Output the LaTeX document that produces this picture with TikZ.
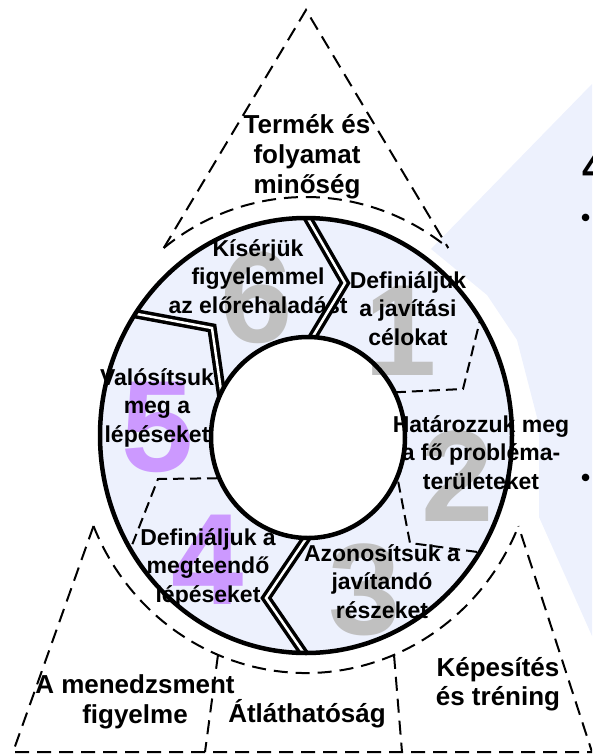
\documentclass[tikz,border=0pt]{standalone}
\usepackage{fontspec}
\setmainfont{Liberation Sans}
\usetikzlibrary{calc}
\definecolor{bluebg}{RGB}{237,241,253}
\definecolor{ringfill}{RGB}{237,241,253}
\definecolor{numgray}{RGB}{192,192,192}
\definecolor{numpurple}{RGB}{204,153,255}
\begin{document}
\begin{tikzpicture}[x=1pt,y=-1pt,
  ringtext/.style={font=\fontsize{23}{28.5}\selectfont\bfseries, align=center, inner sep=0pt, anchor=base},
  outtext/.style={font=\fontsize{26}{30}\selectfont\bfseries, align=center, inner sep=0pt, anchor=base},
  bignum/.style={font=\fontsize{130}{130}\selectfont\bfseries, inner sep=0pt},
  dline/.style={draw=black, line width=3.5pt, double=white, double distance=2.5pt, line join=miter},
  sepdash/.style={line width=2pt, dash pattern=on 11pt off 6pt},
  outdash/.style={line width=2pt, dash pattern=on 14pt off 8pt},
]
\useasboundingbox (0,0) rectangle (592,755);
\clip (0,0) rectangle (592,755);

% background shape on the right
\fill[bluebg] (592,84) -- (431,249) -- (487,295) -- (517,340) -- (539,425) -- (539,517) -- (592,636) -- cycle;
\node[font=\fontsize{40}{40}\selectfont\bfseries, anchor=west, inner sep=0pt] (frag4) at (582,168) {4};
\node[font=\fontsize{26}{26}\selectfont\bfseries, anchor=west, inner sep=0pt] (bul1) at (581,220) {•};
\node[font=\fontsize{26}{26}\selectfont\bfseries, anchor=west, inner sep=0pt] (bul2) at (581,480) {•};

% ring
\coordinate (rc) at (306,435.5);
\coordinate (ic) at (308,437.5);
\fill[ringfill] (rc) ellipse [x radius=206, y radius=217.5];
\fill[white] (ic) ellipse [x radius=97, y radius=100.5];

% big numbers
\node[bignum, text=numgray] (n1) at (401,331) {1};
\node[bignum, text=numgray] (n2) at (458,476) {2};
\node[bignum, text=numgray] (n3) at (365,590) {3};
\node[bignum, text=numpurple] (n4) at (208,560) {4};
\node[bignum, text=numpurple] (n5) at (158,427) {5};
\node[bignum, text=numgray] (n6) at (257,298) {6};

% ring texts (anchored at the baseline of their last line)
\node[ringtext] (t6) at (258,313) {Kísérjük\\figyelemmel\\az előrehaladást};
\node[ringtext] (t1) at (408,345) {Definiáljuk\\a javítási\\célokat};
\node[ringtext] (t2) at (481,489) {Határozzuk meg\\a fő probléma-\\területeket};
\node[ringtext] (t3) at (382,618) {Azonosítsuk a\\javítandó\\részeket};
\node[ringtext] (t4) at (208,602) {Definiáljuk a\\megteendő\\lépéseket};
\node[ringtext] (t5) at (157,442) {Valósítsuk\\meg a\\lépéseket};

% dividers, clipped to the ring
\begin{scope}[even odd rule]
\clip (rc) ellipse [x radius=206, y radius=217.5] (ic) ellipse [x radius=97, y radius=100.5];
\draw[dline] (299,203) -- (345,283) -- (303,353);
\draw[dline] (318,521) -- (266,598) -- (314,668);
\draw[dline] (110,309) -- (212,328) -- (226,425);
\draw[sepdash] (486,296) -- (463,389) -- (380,393);
\draw[sepdash] (395,465) -- (410,543) -- (500,555);
\draw[sepdash] (235,478) -- (158,479) -- (125,563);
\end{scope}

\draw[line width=4.5pt] (rc) ellipse [x radius=206, y radius=217.5];
\draw[line width=4.5pt] (ic) ellipse [x radius=97, y radius=100.5];

% dashed outer frame
\coordinate (dc) at (306,435);
\coordinate (apex) at (306,10);
\coordinate (tl) at ($(dc)+(-128.2:230 and 238)$);
\coordinate (tr) at ($(dc)+(-51.8:230 and 238)$);
\coordinate (bl) at ($(dc)+(157.5:230 and 238)$);
\coordinate (br) at ($(dc)+(22.5:230 and 238)$);
\coordinate (d1) at ($(dc)+(112.5:230 and 238)$);
\coordinate (d2) at ($(dc)+(67.5:230 and 238)$);
\coordinate (blb) at (13,752);
\coordinate (brb) at (592,752);
\coordinate (d1b) at (205,752);
\coordinate (d2b) at (402,752);

\draw[outdash] (tl) -- (apex) -- (tr);
\draw[outdash] (tl) arc[start angle=-128.2, end angle=-51.8, x radius=230, y radius=238];
\draw[outdash] (bl) arc[start angle=157.5, end angle=22.5, x radius=230, y radius=238];
\draw[outdash] (bl) -- (blb) -- (brb) -- (br);
\draw[outdash] (d1) -- (d1b);
\draw[outdash] (d2) -- (d2b);

% outer texts (anchored at the baseline of their last line)
\node[outtext] (top) at (307,193) {Termék és\\folyamat\\minőség};
\node[outtext] (bleft) at (135,723) {A menedzsment\\figyelme};
\node[outtext] (bmid) at (307,722) {Átláthatóság};
\node[outtext, font=\fontsize{26}{29}\selectfont\bfseries] (bright) at (498,705) {Képesítés\\és tréning};
\end{tikzpicture}
\end{document}
